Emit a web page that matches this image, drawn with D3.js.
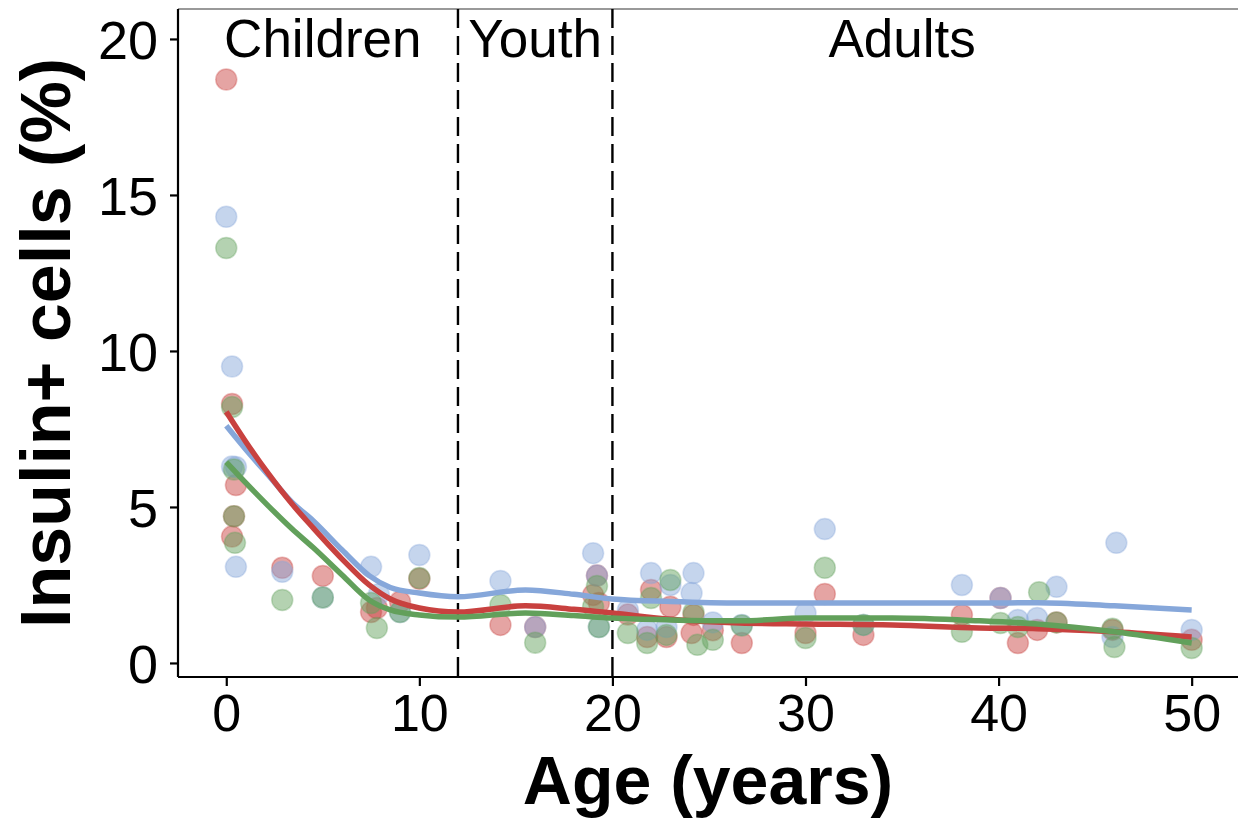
<!DOCTYPE html>
<html>
<head>
<meta charset="utf-8">
<script src="https://cdn.jsdelivr.net/npm/d3@7"></script>
<style>
  body { margin: 0; background: #fff; }
  text { font-family: "Liberation Sans", Arial, sans-serif; }
</style>
</head>
<body>
<div id="chart"></div>
<script>
// Chart Params
const svgWidth = 1238;
const svgHeight = 822;
const margin = { top: 9, right: 0, bottom: 145, left: 178 };
const width = svgWidth - margin.left - margin.right;
const height = svgHeight - margin.top - margin.bottom;

// data: [age, insulin+ %] per series
const redPts = [[0,18.7],[0.3,8.3],[0.5,5.7],[0.4,4.7],[0.3,4.05],
  [2.9,3.05],[5,2.79],[7.5,1.63],[7.8,1.76],[9,1.96],[10,2.7],
  [14.2,1.22],[16,1.15],[19,2.18],[19.2,2.8],[19.3,1.92],
  [20.8,1.55],[22,2.34],[21.8,0.83],[23,1.8],[22.8,0.83],[24.2,1.54],[24.1,0.96],[25.2,1.05],[26.7,0.64],
  [30,0.96],[31,2.21],[33,0.9],
  [38.1,1.54],[40.1,2.08],[41,0.64],[42,1.06],[43,1.3],[45.9,1.06],[50,0.74]];
const bluePts = [[0,14.3],[0.3,9.5],[0.3,6.3],[0.5,6.28],[0.5,3.08],
  [2.9,2.92],[5,2.1],[7.5,3.08],[7.9,2.2],[9,1.63],[10,3.46],
  [14.2,2.63],[16,1.15],[19,3.52],[19.2,2.8],[19.3,1.15],
  [20.8,1.7],[22,2.88],[21.8,1.06],[23,2.5],[22.8,1.15],[24.2,2.88],[24.1,2.24],[25.2,1.3],[26.7,1.22],
  [30,1.6],[31,4.29],[33,1.22],
  [38.1,2.5],[40.1,2.08],[41,1.38],[42,1.44],[43,2.44],[46.1,3.85],[45.9,0.83],[50,1.06]];
const greenPts = [[0,13.3],[0.3,8.2],[0.4,4.7],[0.45,3.85],[0.4,6.2],
  [2.9,2.02],[5,2.1],[7.5,1.92],[7.8,1.12],[9,1.63],[10,2.72],
  [14.2,1.86],[16,0.65],[19,1.8],[19.2,2.47],[19.3,1.15],
  [20.8,0.96],[22,2.08],[21.8,0.64],[23,2.66],[22.8,0.9],[24.2,1.63],[24.4,0.58],[25.2,0.74],[26.7,1.2],
  [30,0.8],[31,3.05],[33,1.22],
  [38.1,1.0],[40.1,1.28],[41,1.15],[42.1,2.27],[43,1.3],[45.9,1.1],[46,0.51],[50,0.48]];

// smooth fits
const fitAges = [0, 1, 2.2, 3.4, 4.5, 6, 7.4, 8.5, 10, 12, 15.5, 18, 20, 23, 26.6, 30, 34.5, 39, 42, 46, 50];
const redFit = [8.05, 7.1, 6.05, 5.1, 4.33, 3.33, 2.5, 2.05, 1.76, 1.63, 1.83, 1.72, 1.6, 1.4, 1.28, 1.25, 1.22, 1.12, 1.1, 1.0, 0.83];
const blueFit = [7.6, 6.85, 6.0, 5.15, 4.56, 3.62, 2.8, 2.42, 2.24, 2.12, 2.34, 2.2, 2.05, 1.97, 1.92, 1.92, 1.92, 1.92, 1.93, 1.83, 1.7];
const greenFit = [6.44, 5.78, 5.02, 4.3, 3.7, 2.82, 2.02, 1.7, 1.54, 1.47, 1.6, 1.52, 1.44, 1.38, 1.35, 1.44, 1.44, 1.35, 1.25, 1.0, 0.64];

const xTicks = [0, 10, 20, 30, 40, 50];
const yTicks = [0, 5, 10, 15, 20];
const stageBreaks = [12, 20];
const stageNames = ["Children", "Youth", "Adults"];
const stageCenters = [5, 16, 35];

const series = [
  { pts: bluePts, fit: blueFit, color: "#86a7da" },
  { pts: redPts, fit: redFit, color: "#c8413f" },
  { pts: greenPts, fit: greenFit, color: "#62a05b" }
];

const svg = d3.select("#chart")
  .append("svg")
  .attr("width", svgWidth)
  .attr("height", svgHeight);

const chartGroup = svg.append("g")
  .attr("transform", `translate(${margin.left}, ${margin.top})`);

const xScale = d3.scaleLinear().domain([-2.5, 52.4]).range([0, width]);
const yScale = d3.scaleLinear().domain([-0.45, 20.96]).range([height, 0]);

// top border
chartGroup.append("line")
  .attr("x1", 0).attr("x2", width).attr("y1", 0).attr("y2", 0)
  .attr("stroke", "#777").attr("stroke-width", 1.5);

// points (red, blue, green order)
[redPts, bluePts, greenPts].forEach((pts, i) => {
  const col = ["#c8413f", "#86a7da", "#62a05b"][i];
  chartGroup.append("g").selectAll("circle")
    .data(pts)
    .enter()
    .append("circle")
    .attr("cx", d => xScale(d[0]))
    .attr("cy", d => yScale(d[1]))
    .attr("r", 10.5)
    .attr("fill", col)
    .attr("fill-opacity", 0.48)
    .attr("stroke", col)
    .attr("stroke-opacity", 0.35)
    .attr("stroke-width", 1.5);
});

// dashed stage lines
chartGroup.selectAll(".stage")
  .data(stageBreaks)
  .enter()
  .append("line")
  .attr("x1", d => xScale(d)).attr("x2", d => xScale(d))
  .attr("y1", 0).attr("y2", height)
  .attr("stroke", "#000")
  .attr("stroke-width", 2.4)
  .attr("stroke-dasharray", "19,8");

// fitted lines
const line = d3.line()
  .x(d => xScale(d[0]))
  .y(d => yScale(d[1]))
  .curve(d3.curveMonotoneX);

series.forEach(s => {
  chartGroup.append("path")
    .datum(fitAges.map((a, i) => [a, s.fit[i]]))
    .attr("d", line)
    .attr("fill", "none")
    .attr("stroke", s.color)
    .attr("stroke-width", 5.5);
});

// stage labels
chartGroup.selectAll(".stageText")
  .data(stageNames)
  .enter()
  .append("text")
  .attr("x", (d, i) => xScale(stageCenters[i]))
  .attr("y", yScale(20) + 18)
  .attr("text-anchor", "middle")
  .attr("font-size", 53)
  .text(d => d);

// axes
const bottomAxis = d3.axisBottom(xScale).tickValues(xTicks).tickSize(9).tickPadding(8).tickFormat(d3.format("d"));
const leftAxis = d3.axisLeft(yScale).tickValues(yTicks).tickSize(8).tickPadding(12).tickFormat(d3.format("d"));

const xAxis = chartGroup.append("g")
  .attr("transform", `translate(0, ${height})`)
  .call(bottomAxis);
const yAxis = chartGroup.append("g")
  .call(leftAxis);

[xAxis, yAxis].forEach(ax => {
  ax.select(".domain").attr("stroke-width", 2.2).attr("d",
    ax === xAxis ? `M0,0H${width}` : `M0,0V${height}`);
  ax.selectAll(".tick line").attr("stroke-width", 2.2);
  ax.selectAll("text").attr("font-family", "Liberation Sans, Arial, sans-serif").attr("fill", "#000");
});
xAxis.selectAll("text").attr("font-size", 52);
yAxis.selectAll("text").attr("font-size", 54).attr("dy", "0.36em");

// axis titles
svg.append("text")
  .attr("x", margin.left + width / 2)
  .attr("y", 804)
  .attr("text-anchor", "middle")
  .attr("font-size", 68)
  .attr("font-weight", "bold")
  .text("Age (years)");

svg.append("text")
  .attr("transform", `translate(70, ${margin.top + height / 2}) rotate(-90)`)
  .attr("text-anchor", "middle")
  .attr("font-size", 70)
  .attr("font-weight", "bold")
  .text("Insulin+ cells (%)");
</script>
</body>
</html>
